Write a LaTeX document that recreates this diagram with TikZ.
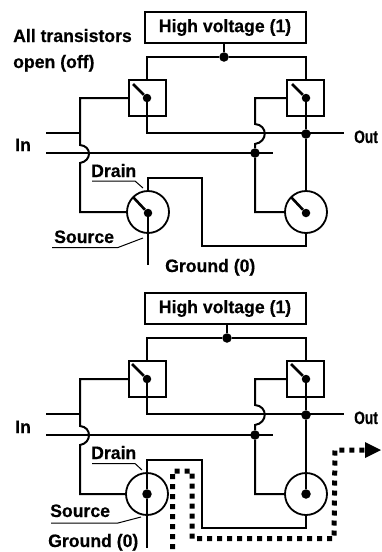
\documentclass[tikz,border=0pt]{standalone}
\usepackage{fontspec}
\setmainfont{Liberation Sans}[BoldFont={Liberation Sans Bold},BoldFeatures={FakeStretch=0.98,FakeBold=0.4}]
\usetikzlibrary{calc}
\tikzset{
 wire/.style={line width=2pt,line join=miter},
 lab/.style={inner sep=0pt,font=\fontsize{18}{18}\selectfont\bfseries,anchor=base west},
 lead/.style={line width=1pt},
 hvbox/.style={draw,line width=2pt,minimum width=161pt,minimum height=31pt,inner sep=0pt,font=\fontsize{18}{18}\selectfont\bfseries},
 sq/.style={draw,line width=2pt,minimum width=37pt,minimum height=36pt,inner sep=0pt},
 circ/.style={draw,circle,line width=1.8pt,minimum size=42pt,inner sep=0pt},
 dot/.style={fill,circle,minimum size=9.5pt,inner sep=0pt},
 lever/.style={line width=2.6pt},
 path5/.style={line width=5pt,dash pattern=on 5pt off 5pt}
}
\begin{document}
\begin{tikzpicture}[x=1pt,y=-1pt]
\useasboundingbox (0,0) rectangle (382,552);
\fill[white] (0,0) rectangle (382,552);
% ---------- top circuit
\node[hvbox] (hv1) at (225,27.5) {High voltage (1)};
\node[dot] (j1) at (224,57) {};
\node[sq] (sl1) at (147.5,98) {};
\node[sq] (sr1) at (305.5,98) {};
\node[circ] (cl1) at (148,212) {};
\node[circ] (cr1) at (306,212) {};
\node[dot,minimum size=8.5pt] (pl1) at (147,98) {};
\node[dot,minimum size=8.5pt] (pr1) at (306,98) {};
\node[dot,minimum size=8.5pt] (pcl1) at (148,213) {};
\node[dot,minimum size=8.5pt] (pcr1) at (306,213) {};
\node[dot] (jo1) at (306,134) {};
\node[dot] (ji1) at (255,153) {};
\draw[wire] (hv1.south -| j1) -- (j1);
\draw[wire] (sl1.north -| pl1) |- (j1) -| (sr1.north -| pr1);
\draw[lever] (pl1) -- ++(-14,-14);
\draw[lever] (pr1) -- ++(-14,-14);
\draw[lever] (pcl1) -- ++(-15,-16);
\draw[lever] (pcr1) -- ++(-15,-16);
\coordinate (outa1) at (344,133);
\coordinate (ina1) at (46,133);
\coordinate (inb1) at (46,153);
\coordinate (inc1) at (273,153);
\draw[wire] (pl1) |- (outa1);
\draw[wire] (pr1) -- (jo1) -- (cr1.north);
\draw[wire] (ina1) -- (80,133);
\draw[wire] (inb1) -- (inc1);
\draw[wire] (sl1.west) -- (80,98) -- (80,145) .. controls (92,146) and (92,161) .. (80,163) -- (80,212) -- (cl1.west);
\draw[wire] (sr1.west) -- (255,98) -- (255,124) .. controls (268,125) and (268,142) .. (255,144) -- (ji1) -- (255,212) -- (cr1.west);
\draw[wire] (cl1.north) -- (148,178) -- (202,178) -- (202,246) -- (306,246) -- (cr1.south);
\coordinate (gnd1) at (148,265);
\draw[wire] (pcl1) -- (gnd1);
\draw[lead] (92,181) -- (135,181) -- (143,188);
\draw[lead] (52,247.5) -- (118,247.5) -- (143,238);
\node[lab] (t1a) at (13,42) {All transistors};
\node[lab] (t1b) at (13,68) {open (off)};
\node[lab] (t1c) at (15,151) {In};
\node[lab] (t1d) at (354,143) {\scalebox{0.78}[1]{Out}};
\node[lab] (t1e) at (91,177) {Drain};
\node[lab] (t1f) at (54,243) {Source};
\node[lab] (t1g) at (165,272) {Ground (0)};
% ---------- bottom circuit
\node[hvbox] (hv2) at (225,308.5) {High voltage (1)};
\node[dot] (j2) at (227,338) {};
\node[sq] (sl2) at (147.5,379) {};
\node[sq] (sr2) at (305.5,379) {};
\node[circ] (cl2) at (147,494) {};
\node[circ] (cr2) at (306,494) {};
\node[dot,minimum size=8.5pt] (pl2) at (147,379) {};
\node[dot,minimum size=8.5pt] (pr2) at (306,379) {};
\node[dot,minimum size=9.5pt] (pcl2) at (147,494) {};
\node[dot,minimum size=9.5pt] (pcr2) at (306,494) {};
\node[dot] (jo2) at (306,415) {};
\node[dot] (ji2) at (255,435) {};
\draw[wire] (hv2.south -| j2) -- (j2);
\draw[wire] (sl2.north -| pl2) |- (j2) -| (sr2.north -| pr2);
\draw[lever] (pl2) -- ++(-15,-15);
\draw[lever] (pr2) -- ++(-15,-15);
\draw[lever] (pcl2) -- (cl2.north);
\draw[lever] (pcr2) -- (cr2.north);
\coordinate (outa2) at (344,414);
\coordinate (ina2) at (46,414);
\coordinate (inb2) at (46,435);
\coordinate (inc2) at (273,435);
\draw[wire] (pl2) |- (outa2);
\draw[wire] (pr2) -- (jo2) -- (cr2.north);
\draw[wire] (ina2) -- (80,414);
\draw[wire] (inb2) -- (inc2);
\draw[wire] (sl2.west) -- (80,379) -- (80,426) .. controls (92,427) and (92,443) .. (80,445) -- (80,494) -- (cl2.west);
\draw[wire] (sr2.west) -- (255,379) -- (255,405) .. controls (268,406) and (268,423) .. (255,425) -- (ji2) -- (255,494) -- (cr2.west);
\draw[wire] (cl2.north) -- (147,460) -- (202,460) -- (202,528) -- (306,528) -- (cr2.south);
\coordinate (gnd2) at (147,548);
\draw[wire] (pcl2) -- (gnd2);
\draw[lead] (92,463.5) -- (135,463.5) -- (142,470);
\draw[lead] (51,523) -- (118,523) -- (141,517);
\coordinate (d0) at (172.5,549);
\coordinate (d1) at (172.5,471);
\coordinate (d2) at (192,471);
\coordinate (d3) at (192,538.5);
\coordinate (d4) at (334,538.5);
\coordinate (d5) at (335,450);
\coordinate (d6) at (367,450);
\draw[path5] (d0) -- (d1) -- (d2) -- (d3) -- (d4) -- (d5) -- (d6);
\fill (d6) ++(-2,-8) -- (381,450) -- (365,458) -- cycle;
\node[lab] (t2a) at (15,433) {In};
\node[lab] (t2b) at (354,424) {\scalebox{0.78}[1]{Out}};
\node[lab] (t2c) at (91,459) {Drain};
\node[lab] (t2d) at (50,517) {Source};
\node[lab] (t2e) at (48,547) {Ground (0)};
\end{tikzpicture}
\end{document}
